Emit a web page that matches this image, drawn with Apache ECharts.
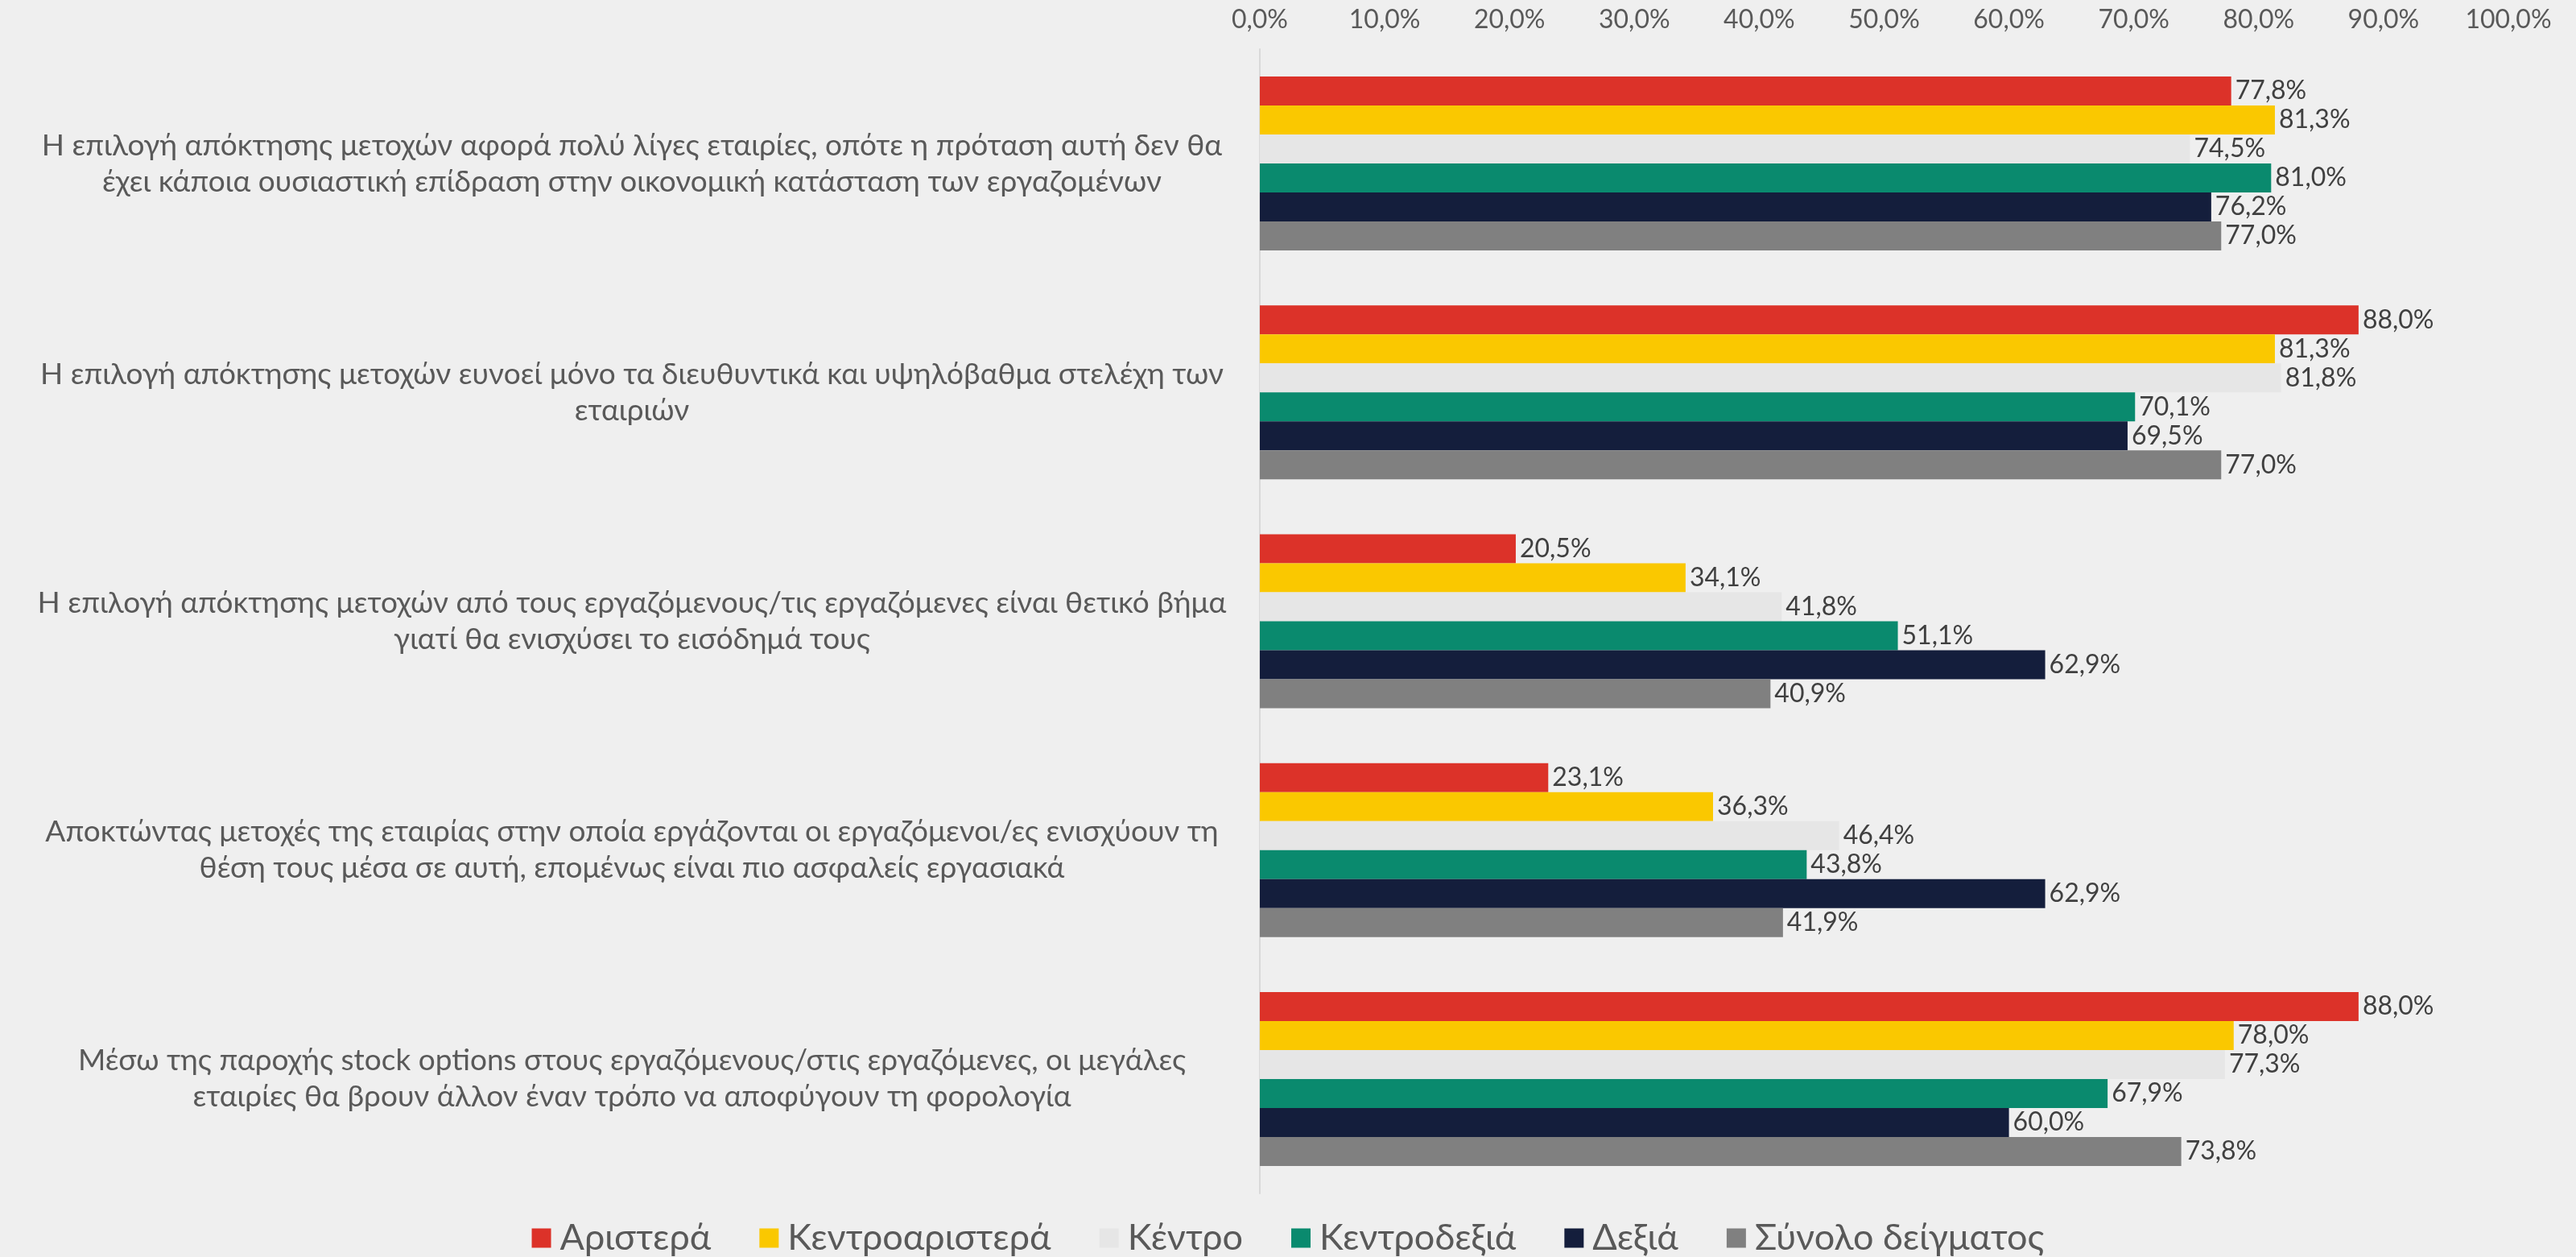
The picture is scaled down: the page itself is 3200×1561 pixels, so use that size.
<!DOCTYPE html>
<html>
<head>
<meta charset="utf-8">
<script src="https://cdn.jsdelivr.net/npm/echarts@6/dist/echarts.min.js"></script>
<style>
  html, body { margin: 0; padding: 0; background: #efefef; }
  #chart { width: 3200px; height: 1561px; }
</style>
</head>
<body>
<div id="chart"></div>
<script>
  // κατηγορίες (ερωτήσεις)
  const categories = [
    'Η επιλογή απόκτησης μετοχών αφορά πολύ λίγες εταιρίες, οπότε η πρόταση αυτή δεν θα\nέχει κάποια ουσιαστική επίδραση στην οικονομική κατάσταση των εργαζομένων',
    'Η επιλογή απόκτησης μετοχών ευνοεί μόνο τα διευθυντικά και υψηλόβαθμα στελέχη των\nεταιριών',
    'Η επιλογή απόκτησης μετοχών από τους εργαζόμενους/τις εργαζόμενες είναι θετικό βήμα\nγιατί θα ενισχύσει το εισόδημά τους',
    'Αποκτώντας μετοχές της εταιρίας στην οποία εργάζονται οι εργαζόμενοι/ες ενισχύουν τη\nθέση τους μέσα σε αυτή, επομένως είναι πιο ασφαλείς εργασιακά',
    'Μέσω της παροχής stock options στους εργαζόμενους/στις εργαζόμενες, οι μεγάλες\nεταιρίες θα βρουν άλλον έναν τρόπο να αποφύγουν τη φορολογία'
  ];

  const seriesNames = ['Αριστερά', 'Κεντροαριστερά', 'Κέντρο', 'Κεντροδεξιά', 'Δεξιά', 'Σύνολο δείγματος'];

  const aristera       = [77.8, 88.0, 20.5, 23.1, 88.0];
  const kentroaristera = [81.3, 81.3, 34.1, 36.3, 78.0];
  const kentro         = [74.5, 81.8, 41.8, 46.4, 77.3];
  const kentrodexia    = [81.0, 70.1, 51.1, 43.8, 67.9];
  const dexia          = [76.2, 69.5, 62.9, 62.9, 60.0];
  const synolo         = [77.0, 77.0, 40.9, 41.9, 73.8];

  const xTicks = [0, 10, 20, 30, 40, 50, 60, 70, 80, 90, 100];

  const colors = ['#dc3229', '#fac800', '#e6e6e6', '#0a8a6e', '#141e3c', '#808080'];
  const allData = [aristera, kentroaristera, kentro, kentrodexia, dexia, synolo];

  const pct = v => v.toFixed(1).replace('.', ',') + '%';

  let myChart = echarts.init(document.getElementById('chart'));
  myChart.setOption({
    backgroundColor: '#efefef',
    animation: false,
    textStyle: { fontFamily: 'Lato' },
    color: colors,
    legend: {
      data: seriesNames,
      top: 1510,
      left: 'center',
      itemWidth: 24,
      itemHeight: 24,
      itemGap: 60,
      icon: 'rect',
      textStyle: { fontSize: 45, color: '#595959', fontFamily: 'Lato', padding: [0, 0, 0, 6] }
    },
    grid: {
      left: 1565,
      right: 84,
      top: 61,
      bottom: 79,
      containLabel: false
    },
    xAxis: {
      type: 'value',
      position: 'top',
      min: xTicks[0],
      max: xTicks[xTicks.length - 1],
      interval: 10,
      axisLine: { show: false },
      axisTick: { show: false },
      splitLine: { show: false },
      axisLabel: {
        margin: 20,
        fontSize: 32,
        color: '#595959',
        formatter: v => pct(v)
      }
    },
    yAxis: {
      type: 'category',
      inverse: true,
      data: categories,
      axisLine: { show: true, lineStyle: { color: '#d9d9d9', width: 2 } },
      axisTick: { show: false },
      axisLabel: {
        align: 'center',
        margin: 780,
        fontSize: 37,
        lineHeight: 45,
        color: '#595959'
      }
    },
    series: seriesNames.map((name, i) => ({
      name: name,
      type: 'bar',
      data: allData[i],
      barWidth: 36,
      barGap: '0%',
      itemStyle: { color: colors[i] },
      label: {
        show: true,
        position: 'right',
        distance: 5,
        fontSize: 32,
        color: '#404040',
        formatter: p => pct(p.value)
      }
    }))
  });
  window.onresize = myChart.resize;
</script>
</body>
</html>
